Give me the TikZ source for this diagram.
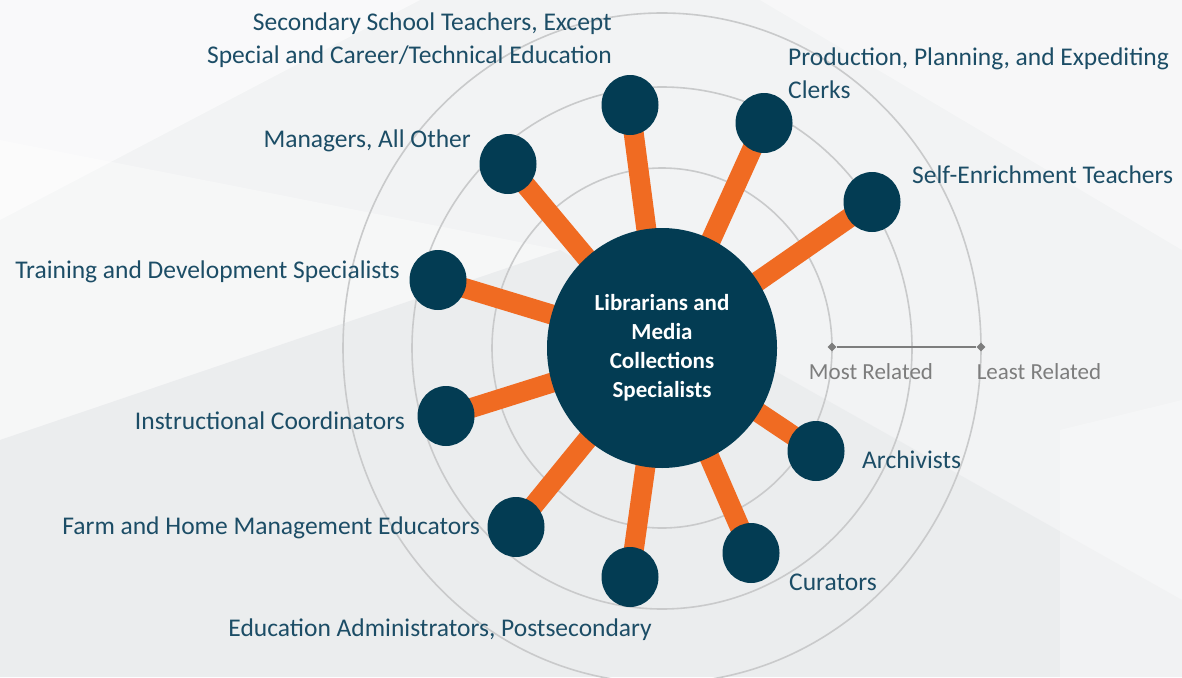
\documentclass[tikz,border=0pt]{standalone}
\usepackage{fontspec}
\setmainfont{Carlito}
\usetikzlibrary{shapes.geometric}
\definecolor{navy}{HTML}{033C53}
\definecolor{bar}{HTML}{F06B22}
\definecolor{lbltxt}{HTML}{1C4D66}
\definecolor{ringgray}{HTML}{C9CACB}
\definecolor{scalegray}{HTML}{7D7D7D}
\definecolor{bgbase}{HTML}{F2F3F4}
\definecolor{bgdark}{HTML}{E7E9EB}
\pgfdeclarelayer{back}
\pgfdeclarelayer{mid}
\pgfsetlayers{back,mid,main}
\begin{document}
\begin{tikzpicture}[x=1pt,y=-1pt,
  occ/.style={ellipse, fill=navy, minimum width=57pt, minimum height=60pt, inner sep=0pt},
  hub/.style={ellipse, fill=navy, minimum width=230pt, minimum height=240pt, inner sep=0pt,
    text=white, align=center, font=\fontsize{23}{29}\selectfont\bfseries},
  lbl/.style={text=lbltxt, inner sep=0pt, font=\fontsize{25.5}{33}\selectfont},
  scl/.style={text=scalegray, inner sep=0pt, font=\fontsize{23}{26}\selectfont},
  spoke/.style={draw=bar, line width=20pt},
  ring/.style={draw=ringgray, line width=1.6pt},
  tick/.style={diamond, fill=scalegray, minimum size=9pt, inner sep=0pt}]
\useasboundingbox (0,0) rectangle (1182,677);
\begin{pgfonlayer}{back}
\clip (0,0) rectangle (1182,677);
\fill[bgbase] (0,0) rectangle (1182,677);
\fill[white, opacity=.55] (0,0) -- (420,0) -- (0,220) -- cycle;
\fill[white, opacity=.35] (0,140) -- (560,250) -- (0,440) -- cycle;
\fill[white, opacity=.4] (760,0) -- (1182,0) -- (1182,250) -- cycle;
\fill[bgdark, opacity=.6] (0,440) -- (560,250) -- (1182,600) -- (1182,677) -- (0,677) -- cycle;
\fill[white, opacity=.3] (1060,430) -- (1182,400) -- (1182,677) -- (1060,677) -- cycle;
% rings
\draw[ring] (662,348) ellipse [x radius=170pt, y radius=180pt];
\draw[ring] (662,348) ellipse [x radius=250pt, y radius=261pt];
\draw[ring] (662,348) ellipse [x radius=319pt, y radius=335pt];
\end{pgfonlayer}

\node[hub] (lib) at (662,348) {Librarians and\\Media\\Collections\\Specialists};

\node[occ] (occ1) at (630,105){};
\node[occ] (occ2) at (764,123){};
\node[occ] (occ3) at (872,202){};
\node[occ] (occ4) at (816,451){};
\node[occ] (occ5) at (751,553){};
\node[occ] (occ6) at (630,577){};
\node[occ] (occ7) at (516,527){};
\node[occ] (occ8) at (446,416){};
\node[occ] (occ9) at (438,280){};
\node[occ] (occ10) at (508,164){};

\begin{pgfonlayer}{mid}
\draw[spoke](lib.center) -- (occ1.center);
\draw[spoke](lib.center) -- (occ2.center);
\draw[spoke](lib.center) -- (occ3.center);
\draw[spoke](lib.center) -- (occ4.center);
\draw[spoke](lib.center) -- (occ5.center);
\draw[spoke](lib.center) -- (occ6.center);
\draw[spoke](lib.center) -- (occ7.center);
\draw[spoke](lib.center) -- (occ8.center);
\draw[spoke](lib.center) -- (occ9.center);
\draw[spoke](lib.center) -- (occ10.center);
\end{pgfonlayer}

\node[lbl, align=right, anchor=north east] (txt1) at (612,13) {Secondary School Teachers, Except\\Special and Career/Technical Education};
\node[lbl, align=left, anchor=north west] (txt2) at (788,48) {Production, Planning, and Expediting\\Clerks};
\node[lbl, anchor=west] (txt3) at (912,175) {Self-Enrichment Teachers};
\node[lbl, anchor=west] (txt4) at (862,460) {Archivists};
\node[lbl, anchor=west] (txt5) at (789,582) {Curators};
\node[lbl, anchor=east] (txt6) at (652,630) {Education Administrators, Postsecondary};
\node[lbl, anchor=east] (txt7) at (480,528) {Farm and Home Management Educators};
\node[lbl, anchor=east] (txt8) at (405,421) {Instructional Coordinators};
\node[lbl, anchor=east] (txt9) at (400,272) {Training and Development Specialists};
\node[lbl, anchor=east] (txt10) at (471,141) {Managers, All Other};

% relation scale
\node[tick] (most) at (832,347){};
\node[tick] (least) at (981,347){};
\draw[scalegray, line width=2pt] (most) -- (least);
\node[scl] (mostlbl) at (871,372) {Most Related};
\node[scl] (leastlbl) at (1039,372) {Least Related};
\end{tikzpicture}
\end{document}
